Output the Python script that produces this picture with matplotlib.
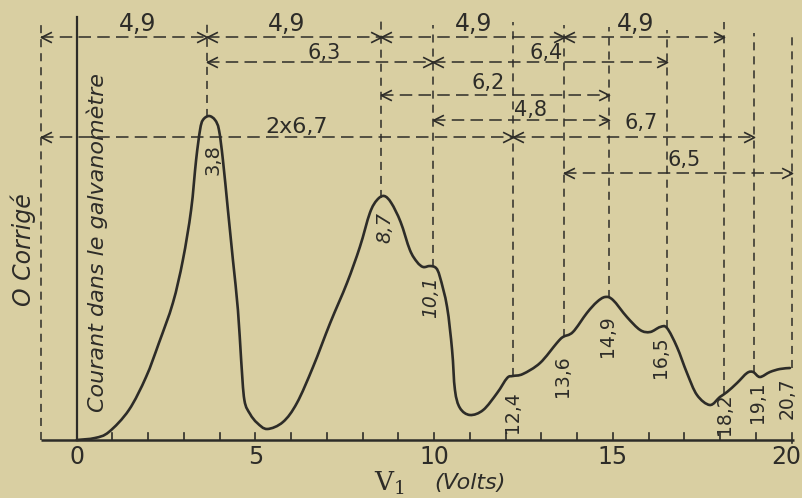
import numpy as np
import matplotlib
matplotlib.use('Agg')
import matplotlib.pyplot as plt
from matplotlib.path import Path
from matplotlib.patches import PathPatch

# ---------------- data ----------------
volts = [0.0, 0.51, 0.90, 1.46, 1.94, 2.30, 2.69, 2.97, 3.20, 3.34, 3.45, 3.53, 3.70,
         3.87, 3.98, 4.09, 4.23, 4.37, 4.51, 4.60, 4.69, 4.85, 5.05, 5.33, 5.77,
         6.16, 6.61, 7.09, 7.56, 7.92, 8.20, 8.40, 8.60, 8.80, 9.06, 9.32, 9.52,
         9.69, 9.88, 10.05, 10.16, 10.36, 10.50, 10.58, 10.72, 11.0, 11.37, 11.76,
         12.04, 12.20, 12.48, 12.96, 13.43, 13.60, 13.88, 14.27, 14.55, 14.78,
         15.0, 15.39, 15.76, 16.04, 16.32, 16.51, 16.79, 17.07, 17.35, 17.71,
         17.99, 18.19, 18.47, 18.75, 18.92, 19.11, 19.39, 19.67, 19.95]
current = [0.0, 0.5, 2.0, 7.5, 15.75, 24.25, 34.25, 45.0, 57.5, 70.0, 77.5, 80.0, 81.0,
           80.0, 77.5, 70.0, 57.5, 45.0, 32.5, 20.0, 10.0, 6.5, 4.25, 2.75, 4.5,
           9.25, 18.25, 29.25, 39.25, 48.25, 56.75, 60.0, 61.0, 59.25, 54.5, 47.5, 44.5,
           43.25, 43.5, 43.0, 40.75, 33.25, 22.5, 12.5, 8.0, 6.25, 7.5, 11.75,
           15.5, 16.0, 16.5, 19.25, 24.25, 25.75, 27.0, 31.75, 34.5, 35.75,
           35.0, 30.75, 27.5, 27.0, 28.25, 28.0, 23.25, 16.75, 11.25, 8.75,
           10.75, 12.0, 14.25, 16.75, 17.0, 15.75, 17.0, 17.75, 18.0]

zero_corrected = -1.0
peak_volts = [3.65, 8.5, 9.98, 12.2, 13.62, 14.88, 16.5, 18.1, 18.95, 20.0]
peak_labels = ['3,8', '8,7', '10,1', '12,4', '13,6', '14,9', '16,5', '18,2', '19,1', '20,7']

span_starts = [-1.0, 3.65, 8.5, 13.62, 3.65, 9.98, 8.5, 9.98, -1.0, 12.2, 13.62]
span_ends = [3.65, 8.5, 13.62, 18.1, 9.98, 16.5, 14.88, 14.88, 12.2, 18.95, 20.0]
span_labels = ['4,9', '4,9', '4,9', '4,9', '6,3', '6,4', '6,2', '4,8', '2x6,7', '6,7', '6,5']
span_rows = [0, 0, 0, 0, 1, 1, 2, 3, 4, 4, 5]

tick_values = list(range(1, 21))
tick_labels = ['0', '5', '10', '15', '20']
tick_label_values = [0, 5, 10, 15, 20]

# ---------------- layout ----------------
row_levels = [100.75, 94.5, 86.25, 80.0, 75.75, 66.75]
span_label_pos = [(1.69, 104), (5.86, 104), (11.11, 104), (15.64, 104),
                  (6.92, 96.75), (13.13, 96.75), (11.5, 89.25), (12.68, 82.5),
                  (6.16, 78.25), (15.78, 79.25), (17.0, 70.0)]
span_label_size = [17, 17, 17, 17, 15, 15, 15, 15, 16, 15, 15]
guide_tops = [105.0, 105.5, 103.75, 104.5, 103.75, 103.25, 102.5, 104.5, 101.75, 101.75]
peak_label_pos = [(3.82, 70), (8.62, 53.25), (9.91, 35.75), (12.18, 7), (13.60, 16),
                  (14.86, 26), (16.34, 20.75), (18.13, 6.5), (19.03, 9.5), (19.87, 10.5)]
peak_label_size = [14, 14, 13.5, 13.5, 13.5, 13.5, 13.5, 13.5, 13.5, 13.5]
peak_label_style = ['normal', 'italic', 'italic', 'normal', 'normal', 'normal',
                    'normal', 'normal', 'normal', 'normal']

paper = '#d9cfa2'
ink = '#2d2c28'

plt.rcParams['lines.scale_dashes'] = False
plt.rcParams['mathtext.fontset'] = 'dejavuserif'

fig = plt.figure(figsize=(8.03, 4.98), dpi=100, facecolor=paper)
ax = fig.add_axes([0, 0, 1, 1])
ax.set_facecolor(paper)
ax.set_xlim(-2.145, 20.315)
ax.set_ylim(-14.5, 110)
ax.axis('off')

hdash = (9.0, 4.5)
vdash = (5.8, 4.3)
dlw = 1.1

# arrowhead markers
left_head = Path([(1.0, 0.5), (0.0, 0.0), (1.0, -0.5)], [Path.MOVETO, Path.LINETO, Path.LINETO])
right_head = Path([(-1.0, 0.5), (0.0, 0.0), (-1.0, -0.5)], [Path.MOVETO, Path.LINETO, Path.LINETO])

# baseline and ticks
ax.plot([zero_corrected, 20.07], [0, 0], color=ink, lw=1.8, solid_capstyle='butt')
for t in tick_values:
    lo = -0.8 if t == 20 else 0
    ax.plot([t, t], [lo, 1.7], color=ink, lw=1.2)
for v, lab in zip(tick_label_values, tick_labels):
    xpos = min(v, 19.85)
    ax.text(xpos, -4.3, lab, ha='center', va='center', fontsize=17, color=ink)

# vertical axis at 0
ax.plot([0, 0], [0, 105.75], color=ink, lw=1.6)

# corrected-zero guide
ax.plot([zero_corrected, zero_corrected], [0, 105.0], color=ink, lw=dlw, dashes=vdash)

# guides from peaks
vv = np.array(volts)
cc = np.array(current)
for pv, top in zip(peak_volts, guide_tops):
    bottom = float(np.interp(pv, vv, cc))
    ax.plot([pv, pv], [bottom, top], color=ink, lw=dlw, dashes=vdash)

# spans
for s, e, lab, r, (lx, ly), fs in zip(span_starts, span_ends, span_labels, span_rows,
                                       span_label_pos, span_label_size):
    y = row_levels[r]
    ax.plot([s, e], [y, y], color=ink, lw=dlw, dashes=hdash)
    ax.plot([s], [y], marker=left_head, ms=15, mew=1.2, mec=ink, mfc='none', ls='none')
    ax.plot([e], [y], marker=right_head, ms=15, mew=1.2, mec=ink, mfc='none', ls='none')
    ax.text(lx, ly, lab, ha='center', va='center', fontsize=fs, color=ink)

# curve: smooth Bezier (Catmull-Rom) through the read points
sx, sy = 35.75, 4.0
P = np.column_stack([vv * sx, cc * sy])
Pext = np.vstack([P[0], P, P[-1]])
verts = [tuple(P[0])]
codes = [Path.MOVETO]
for i in range(len(P) - 1):
    p0, p1, p2, p3 = Pext[i], Pext[i + 1], Pext[i + 2], Pext[i + 3]
    c1 = p1 + (p2 - p0) / 6.0
    c2 = p2 - (p3 - p1) / 6.0
    verts += [tuple(c1), tuple(c2), tuple(p2)]
    codes += [Path.CURVE4] * 3
verts = np.array(verts) / np.array([sx, sy])
ax.add_patch(PathPatch(Path(verts, codes), fill=False, edgecolor=ink, lw=1.9,
                       joinstyle='round', capstyle='round'))

# peak labels
for (lx, ly), lab, fs, st in zip(peak_label_pos, peak_labels, peak_label_size, peak_label_style):
    ax.text(lx, ly, lab, rotation=90, ha='center', va='center', fontsize=fs,
            style=st, color=ink)

# axis titles
ax.text(-1.50, 47.5, 'O Corrigé', rotation=90, ha='center', va='center', fontsize=17,
        style='italic', color=ink)
ax.text(0.57, 49.5, 'Courant dans le galvanomètre', rotation=90, ha='center', va='center',
        fontsize=16, style='italic', color=ink)
ax.text(8.76, -10.9, r'$\mathrm{V}_1$', ha='center', va='center', fontsize=19, color=ink)
ax.text(11.0, -10.75, '(Volts)', ha='center', va='center', fontsize=16, style='italic',
        color=ink)

fig.savefig('out.png', dpi=100, facecolor=paper)
